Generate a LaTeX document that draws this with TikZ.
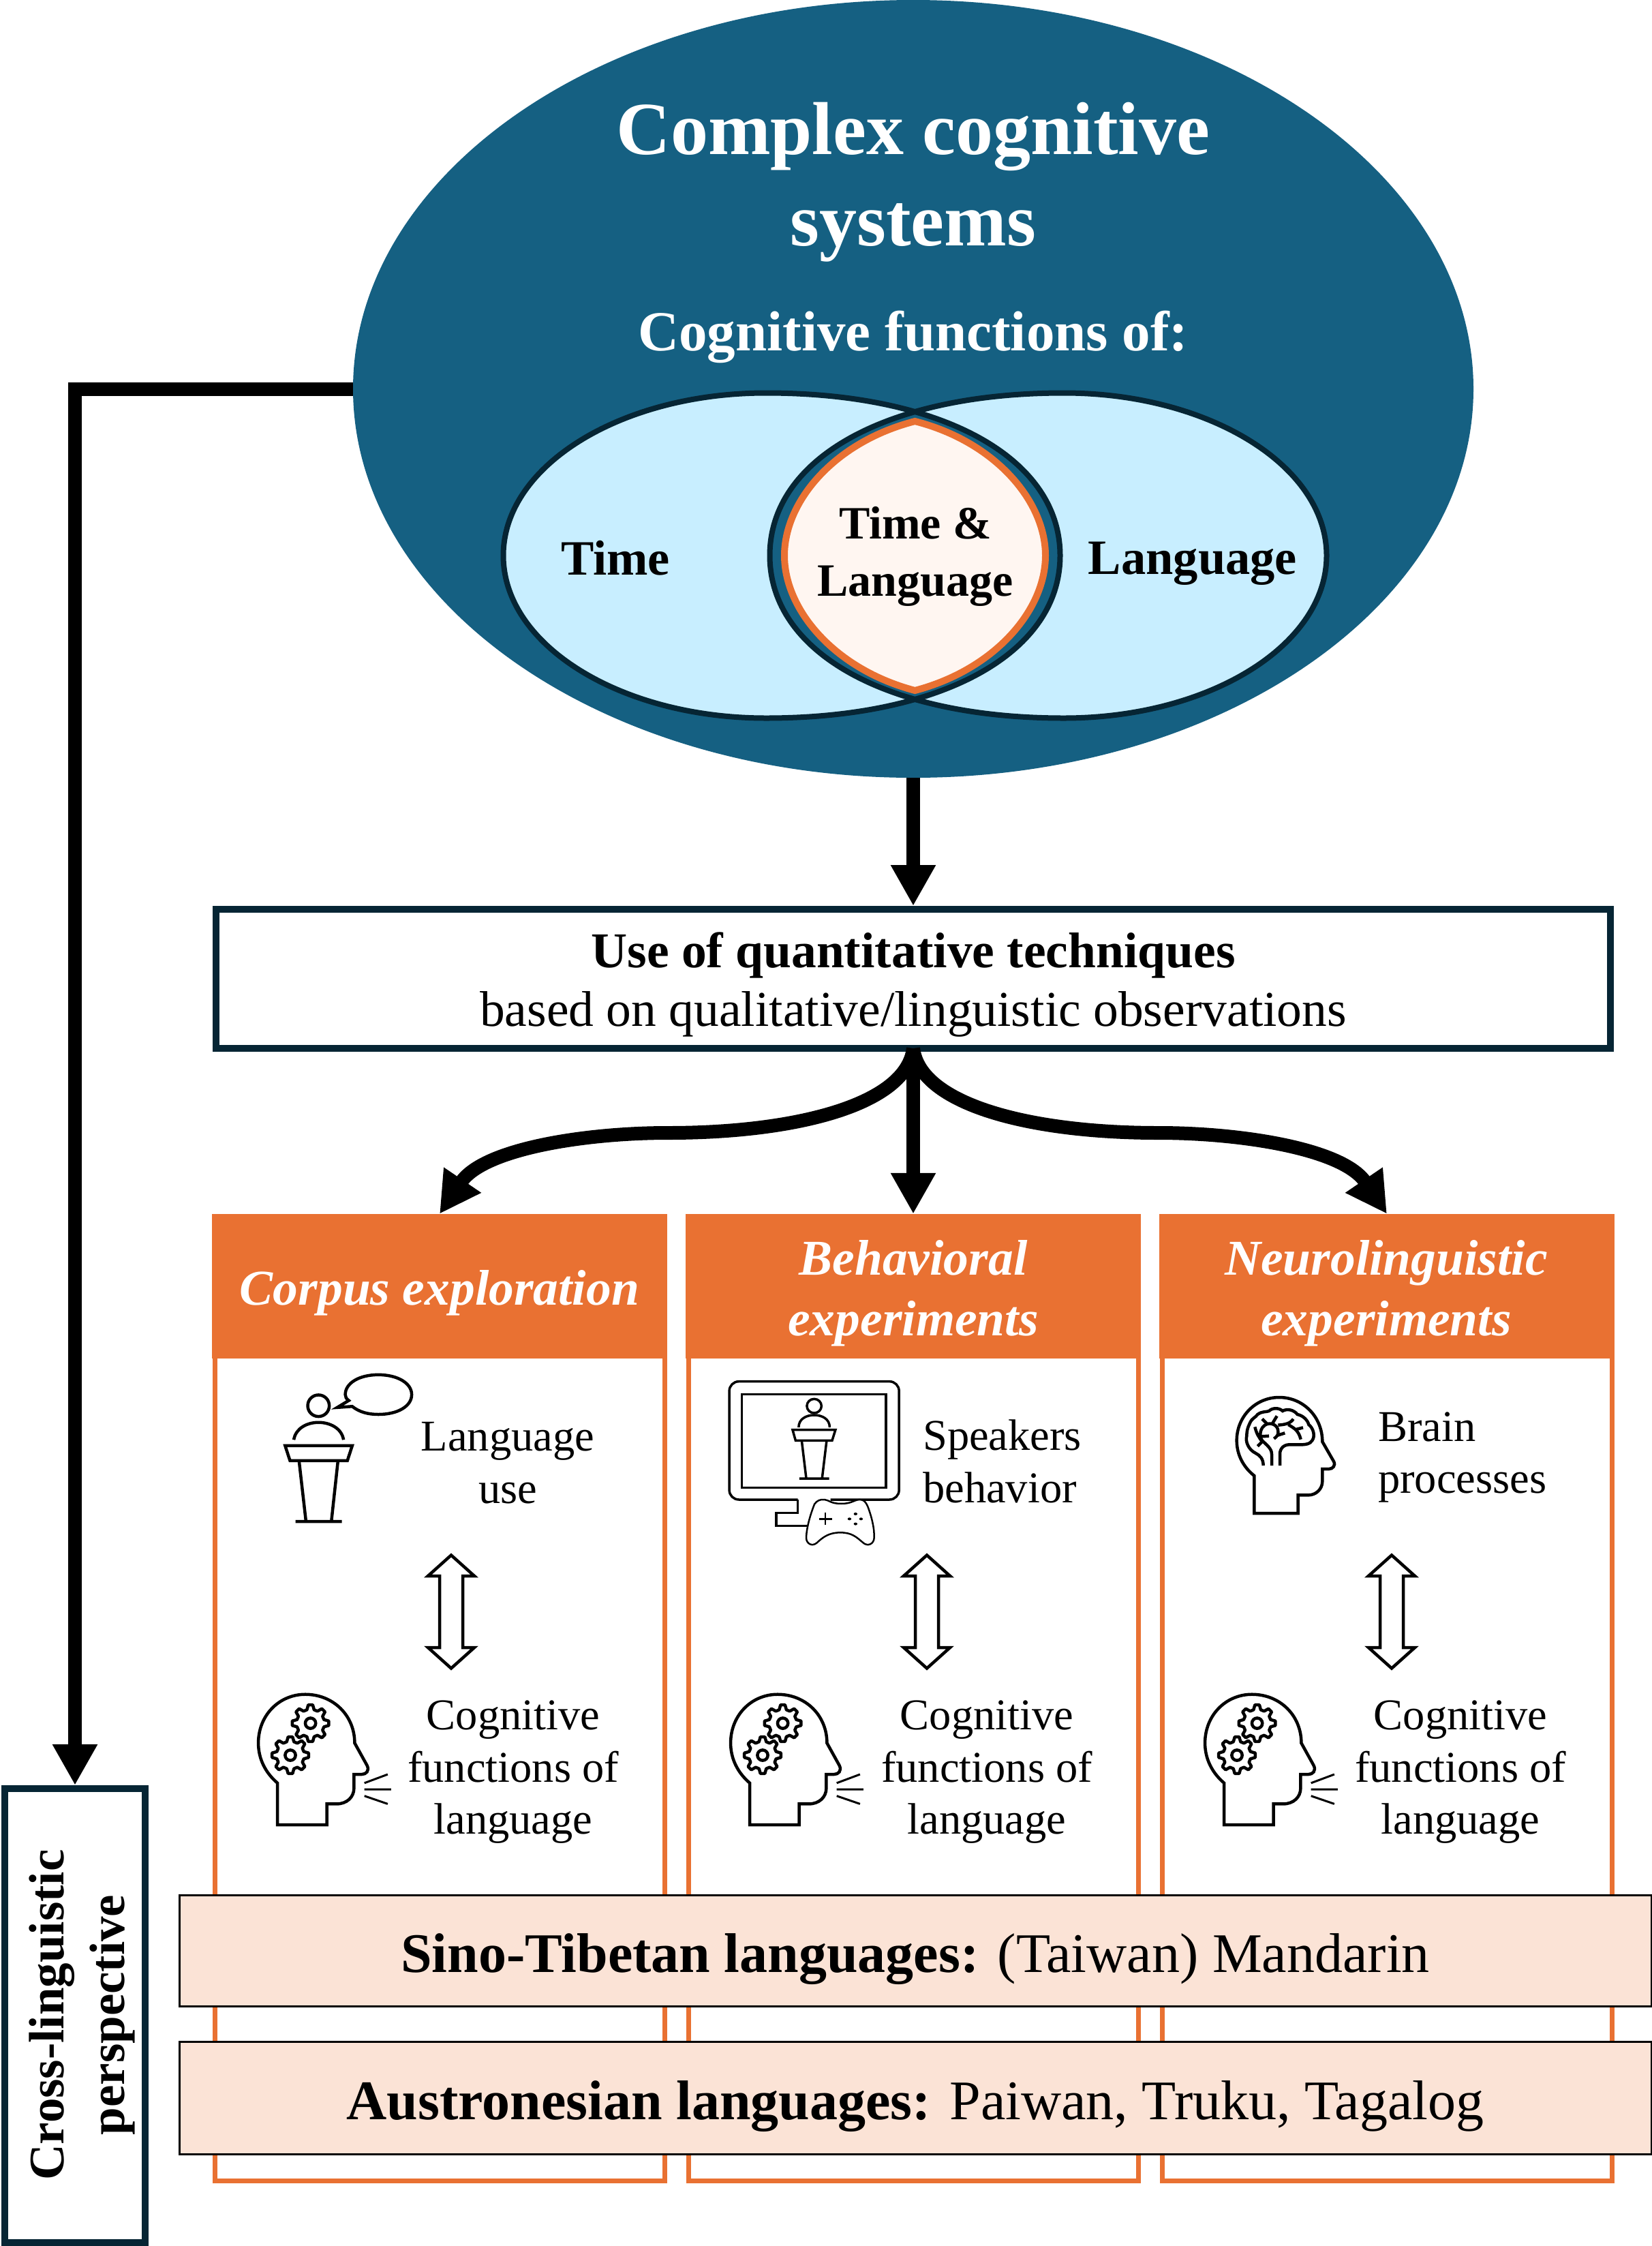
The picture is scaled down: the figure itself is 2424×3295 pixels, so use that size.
\documentclass[tikz,border=0pt]{standalone}
\usepackage{fontspec}
\setmainfont{Liberation Serif}
\usetikzlibrary{arrows.meta,shapes.geometric}
\definecolor{bigblue}{HTML}{156082}
\definecolor{darkedge}{HTML}{062534}
\definecolor{paleblue}{HTML}{C8EEFF}
\definecolor{lenscol}{HTML}{FFF6F1}
\definecolor{orangecol}{HTML}{E97132}
\definecolor{bandcol}{HTML}{FBE3D6}
\tikzset{
  txt/.style={inner sep=0pt,align=center,text=black},
  fsa/.style={font=\fontsize{110}{134}\selectfont\bfseries},
  fsb/.style={font=\fontsize{83}{100}\selectfont\bfseries},
  fsc/.style={font=\fontsize{72.5}{84}\selectfont\bfseries},
  fsd/.style={font=\fontsize{68}{84}\selectfont\bfseries},
  inner text/.style={txt,font=\fontsize{64.5}{76.5}\selectfont},
  headerbox/.style={rectangle,fill=orangecol,minimum width=668pt,minimum height=212pt,inner sep=0pt},
  headertext/.style={inner sep=0pt,align=center,text=white,font=\fontsize{73.5}{89}\selectfont\bfseries\itshape},
  bodybox/.style={rectangle,draw=orangecol,line width=7pt,fill=white,minimum width=660pt,inner sep=0pt},
  bandbox/.style={rectangle,draw=black,line width=3pt,fill=bandcol,inner sep=0pt,minimum width=2160pt,text height=62pt,text depth=0pt,font=\fontsize{82}{90}\selectfont},
  flow/.style={line width=20pt,draw=black,-{Triangle[length=60pt,width=62pt]}},
  iconline/.style={line width=4.5pt,draw=black},
  iconthin/.style={line width=3.5pt,draw=black},
  vennedge/.style={draw=darkedge,line width=8pt},
}
\newcommand{\leftvenn}{(1124,576.5) .. controls (1383,576.5) and (1555.5,672) .. (1555.5,815) .. controls (1555.5,958) and (1383,1053.5) .. (1124,1053.5) .. controls (911,1053.5) and (738.5,946.7) .. (738.5,815) .. controls (738.5,683.3) and (911,576.5) .. (1124,576.5) -- cycle}
\newcommand{\rightvenn}{(1561,576.5) .. controls (1302,576.5) and (1129.5,672) .. (1129.5,815) .. controls (1129.5,958) and (1302,1053.5) .. (1561,1053.5) .. controls (1774,1053.5) and (1946.5,946.7) .. (1946.5,815) .. controls (1946.5,683.3) and (1774,576.5) .. (1561,576.5) -- cycle}
\newcommand{\gearshape}[2]{%
  \begin{scope}[shift={(#1,#2)}]
    \draw[iconline,line join=round] (-15:40) \foreach \a in {0,45,...,315}{ -- ({\a-15}:40) -- ({\a-7}:53) -- ({\a+7}:53) -- ({\a+15}:40)} -- cycle;
    \draw[iconline] (0,0) circle (15);
  \end{scope}}
\newcommand{\gearheadicon}[1]{%
  \begin{scope}[shift={(300+#1,1950)},x=0.5102pt,y=-0.5102pt]
    \draw[iconline] (210,1425) -- (210,1305) .. controls (175,1275) and (155,1235) .. (155,1190) .. controls (155,1110) and (215,1050) .. (290,1050) .. controls (370,1050) and (432,1110) .. (432,1190) -- (468,1255) .. controls (475,1270) and (465,1280) .. (452,1280) -- (430,1280) -- (430,1320) .. controls (430,1345) and (410,1365) .. (380,1365) -- (352,1365) -- (352,1425) -- cycle;
    \gearshape{305}{1133}
    \gearshape{247}{1225}
    \draw[line width=3pt] (460,1305) -- (527,1280) (460,1323) -- (537,1323) (460,1342) -- (527,1365);
  \end{scope}}
\newcommand{\updown}[1]{%
  \draw[iconline,miter limit=10] (#1,2281.5) -- (#1+34,2312) -- (#1+17,2312) -- (#1+17,2417) -- (#1+34,2417) -- (#1,2447.5) -- (#1-34,2417) -- (#1-17,2417) -- (#1-17,2312) -- (#1-34,2312) -- cycle;}
\begin{document}
\begin{tikzpicture}[x=1pt,y=-1pt]
\useasboundingbox (0,0) rectangle (2424,3295);
\fill[white] (0,0) rectangle (2424,3295);

% main ellipse and Venn
\node[ellipse,fill=bigblue,inner sep=0pt,minimum width=1644pt,minimum height=1141pt] (big) at (1340,570.5) {};
\fill[paleblue] \leftvenn;
\fill[paleblue] \rightvenn;
\begin{scope}
  \clip \leftvenn;
  \fill[bigblue] \rightvenn;
\end{scope}
\path[vennedge] \leftvenn;
\path[vennedge] \rightvenn;
\draw[orangecol,line width=10pt,fill=lenscol,miter limit=10]
  (1342.5,618) .. controls (1225,648) and (1151,735) .. (1151,815)
  .. controls (1151,895) and (1225,982) .. (1342.5,1013)
  .. controls (1460,982) and (1534,895) .. (1534,815)
  .. controls (1534,735) and (1460,648) .. (1342.5,618) -- cycle;

\node[txt,fsa,text=white] (title) at (1340,267) {Complex cognitive\\systems};
\node[txt,fsb,text=white] (sub) at (1340,494) {Cognitive functions of:};
\node[txt,fsc] (ttime) at (903,819) {Time};
\node[txt,fsc] (tlang) at (1750,827) {Language};
\node[txt,fsd] (tboth) at (1343,816) {Time \&\\Language};

% quantitative box
\node[rectangle,draw=darkedge,line width=10pt,fill=white,minimum width=2046pt,minimum height=204pt,inner sep=0pt] (quant) at (1340,1436) {};
\node[txt,font=\fontsize{73.5}{86}\selectfont] (quantt) at (1340,1445) {\textbf{Use of quantitative techniques}\\based on qualitative/linguistic observations};

% column bodies and headers
\node[bodybox,minimum height=1211pt,anchor=north] (b1) at (645.5,1985) {};
\node[bodybox,minimum height=1211pt,anchor=north] (b2) at (1340,1985) {};
\node[bodybox,minimum height=1211pt,anchor=north] (b3) at (2035,1985) {};
\node[headerbox] (h1) at (645,1887) {};
\node[headerbox] (h2) at (1340,1887) {};
\node[headerbox] (h3) at (2035,1887) {};
\node[headertext] (h1t) at (645,1897) {Corpus exploration};
\node[headertext] (h2t) at (1340,1897) {Behavioral\\experiments};
\node[headertext] (h3t) at (2034,1897) {Neurolinguistic\\experiments};

% connectors
\draw[flow] (big.south) -- (quant.north);
\draw[flow] ([yshift=5pt]quant.south) -- (h2.north);
\draw[flow] ([yshift=5pt]quant.south) .. controls (1330,1620) and (1170,1662) .. (980,1662) .. controls (860,1662) and (710,1685) .. (h1.north);
\draw[flow] ([yshift=5pt]quant.south) .. controls (1350,1620) and (1510,1662) .. (1700,1662) .. controls (1820,1662) and (1970,1685) .. (h3.north);

% column contents
\node[inner text] (c1a) at (745,2146) {Language\\use};
\node[inner text,align=left] (c2a) at (1354,2144) [anchor=west] {Speakers\\behavior};
\node[inner text,align=left] (c3a) at (2022,2138) [anchor=west] {Brain\\processes};
\node[inner text] (c1b) at (753,2600) {Cognitive\\functions of\\language};
\node[inner text] (c2b) at (1448,2600) {Cognitive\\functions of\\language};
\node[inner text] (c3b) at (2143,2600) {Cognitive\\functions of\\language};
\updown{662}
\updown{1360}
\updown{2042}
\gearheadicon{0}
\gearheadicon{693}
\gearheadicon{1389}

% podium with speech bubble
\begin{scope}[shift={(300,1950)},x=0.5102pt,y=-0.5102pt]
  \draw[iconline] (328,220) circle (31);
  \draw[iconline] (257,318) .. controls (262,285) and (295,268) .. (328,268) .. controls (361,268) and (395,285) .. (400,318);
  \draw[iconline] (232,335) -- (425,335) -- (411,378) -- (246,378) -- cycle;
  \draw[iconline] (272,378) -- (292,553) (384,378) -- (365,553) (262,553) -- (395,553);
  \draw[iconline] (415,205) -- (382,225) -- (425,222) .. controls (445,238) and (470,245) .. (500,245) .. controls (555,245) and (596,222) .. (596,188) .. controls (596,155) and (555,131) .. (500,131) .. controls (445,131) and (405,155) .. (405,188) .. controls (405,195) and (408,200) .. (415,205) -- cycle;
\end{scope}

% monitor with controller
\begin{scope}[shift={(1000,1950)},x=0.4464pt,y=-0.3333pt]
  \draw[iconthin,rounded corners=14pt] (382,750) -- (157,750) -- (157,230) -- (715,230) -- (715,750) -- (490,750);
  \draw[iconthin] (198,287) rectangle (672,697);
  \draw[iconthin] (382,750) -- (382,808) -- (311,808) -- (311,865) -- (415,865);
  \draw[iconthin] (436,338) ellipse [x radius=24,y radius=31];
  \draw[iconthin] (385,432) .. controls (385,395) and (410,378) .. (436,378) .. controls (462,378) and (487,395) .. (487,432);
  \draw[iconthin] (365,443) -- (506,443) -- (495,490) -- (375,490) -- cycle;
  \draw[iconthin] (395,490) -- (410,657) (477,490) -- (462,657) (387,657) -- (485,657);
  \draw[line width=2.5pt,fill=white] (437,770) .. controls (445,755) and (455,748) .. (470,750) .. controls (485,752) and (490,768) .. (525,768) .. controls (560,768) and (565,752) .. (585,750) .. controls (600,750) and (605,760) .. (612,780) .. controls (625,825) and (635,880) .. (633,920) .. controls (632,945) and (612,958) .. (597,940) .. controls (575,915) and (560,895) .. (522,895) .. controls (485,895) and (465,915) .. (445,940) .. controls (430,958) and (411,945) .. (410,920) .. controls (410,880) and (422,820) .. (437,770) -- cycle;
  \draw[line width=2.5pt] (473,808) -- (473,862) (452,835) -- (495,835);
  \fill (572,813) ellipse [x radius=6,y radius=6] (552,835) ellipse [x radius=6,y radius=6] (590,835) ellipse [x radius=6,y radius=6] (572,857) ellipse [x radius=6,y radius=6];
\end{scope}

% head with brain
\begin{scope}[shift={(1752,2000)},x=0.3333pt,y=-0.3333pt]
  \draw[iconline] (265,660) -- (265,495) .. controls (215,455) and (188,400) .. (188,340) .. controls (188,235) and (270,150) .. (375,150) .. controls (480,150) and (565,235) .. (565,345) -- (615,432) .. controls (625,450) and (610,465) .. (595,465) -- (565,465) -- (565,520) .. controls (565,555) and (535,580) .. (505,580) -- (458,580) -- (458,660) -- cycle;
  \draw[iconline] (305,450) .. controls (305,420) and (290,405) .. (270,395) .. controls (240,380) and (225,345) .. (232,320) .. controls (232,300) and (235,285) .. (245,265) .. controls (255,240) and (270,240) .. (280,225) .. controls (300,210) and (320,215) .. (330,210) .. controls (345,195) and (375,195) .. (390,210) .. controls (410,198) and (440,205) .. (455,225) .. controls (480,230) and (500,250) .. (505,270) .. controls (525,285) and (535,320) .. (520,340) .. controls (510,355) and (495,358) .. (470,358) -- (420,358) .. controls (395,358) and (378,375) .. (378,400) -- (378,450);
  \draw[iconline] (342,450) -- (342,400) .. controls (342,375) and (320,360) .. (300,340) .. controls (285,320) and (290,280) .. (320,268) .. controls (345,260) and (370,275) .. (370,300);
  \draw[iconline] (300,245) -- (320,265) (365,232) -- (345,265);
  \draw[iconline] (370,272) .. controls (400,270) and (425,265) .. (437,245);
  \draw[iconline] (415,270) .. controls (440,285) and (460,295) .. (470,335);
  \draw[iconline] (445,292) -- (480,283);
  \draw[iconline] (370,300) .. controls (372,315) and (365,322) .. (352,332);
  \draw[iconline] (365,318) -- (400,307);
  \draw[iconline] (268,280) .. controls (275,310) and (285,325) .. (300,345);
  \draw[iconline] (297,322) -- (330,320) (300,345) -- (280,365);
\end{scope}

% language bands
\node[bandbox,minimum height=163pt] (sino) at (1343,2862) {\textbf{Sino-Tibetan languages:} (Taiwan) Mandarin};
\node[bandbox,minimum height=165pt] (austro) at (1343,3078) {\textbf{Austronesian languages:} Paiwan, Truku, Tagalog};

% cross-linguistic box
\node[rectangle,draw=darkedge,line width=10pt,fill=white,minimum width=206pt,minimum height=666pt,inner sep=0pt] (cross) at (110,2957) {};
\node[txt,rotate=90,font=\fontsize{73}{89}\selectfont\bfseries] (crosst) at (120,2956) {Cross-linguistic\\perspective};
\draw[flow] (big.west) -| (cross.north);
\end{tikzpicture}
\end{document}
